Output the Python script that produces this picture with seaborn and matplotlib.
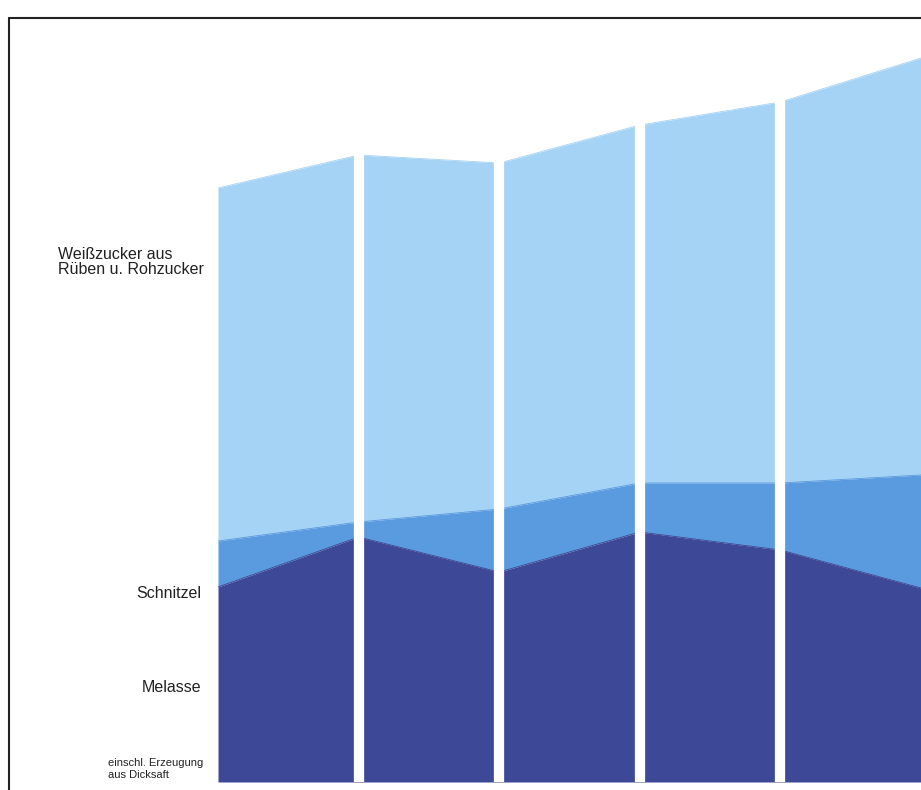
import numpy as np
import pandas as pd
import matplotlib
matplotlib.use("Agg")
import matplotlib.pyplot as plt
from matplotlib.lines import Line2D
import seaborn as sns

# ---- data (arbitrary units, stacked heights) ----
points = [0, 1, 2, 3, 4, 5]                       # panel boundaries
total = [594, 627, 619, 657, 680, 724]            # top of Weißzucker
schnitzel_top = [241, 260, 273, 299, 299, 307]    # top of Schnitzel
melasse = [195, 245, 210, 250, 232, 194]          # top of Melasse

labels = ["Weißzucker aus\nRüben u. Rohzucker", "Schnitzel", "Melasse"]
note = "einschl. Erzeugung\naus Dicksaft"

c_light = "#a5d3f5"
c_mid = "#5a9ade"
c_dark = "#3d4896"

sns.set_theme(style="white")
plt.rcParams["font.family"] = ["Liberation Sans", "DejaVu Sans"]

W, H = 921, 790
fig = plt.figure(figsize=(W / 100, H / 100), dpi=100)
ax = fig.add_axes([218 / W, (H - 782) / H, 1 - 218 / W, (782 - 18) / H])

df = pd.DataFrame({"x": points, "total": total, "mid": schnitzel_top, "dark": melasse})

ax.fill_between(df["x"], df["mid"], df["total"], color=c_light, lw=0)
ax.fill_between(df["x"], df["dark"], df["mid"], color=c_mid, lw=0)
ax.fill_between(df["x"], 0, df["dark"], color=c_dark, lw=0)
sns.lineplot(data=df, x="x", y="total", ax=ax, color=c_light, lw=0.6)
sns.lineplot(data=df, x="x", y="mid", ax=ax, color=c_mid, lw=0.6)
sns.lineplot(data=df, x="x", y="dark", ax=ax, color=c_dark, lw=0.6)

for xv in points[1:-1]:
    ax.axvline(xv, color="white", lw=7.4, zorder=5)

ax.set_xlim(0, 5)
ax.set_ylim(0, 764)
ax.set_xlabel("")
ax.set_ylabel("")
ax.set_xticks([])
ax.set_yticks([])
for s in ax.spines.values():
    s.set_visible(False)

# frame lines (top and left)
fig.add_artist(Line2D([8.5 / W, 8.5 / W], [0, 1 - 18 / H], transform=fig.transFigure,
                      color="#222222", lw=1.5))
fig.add_artist(Line2D([8.5 / W, 1], [1 - 18 / H, 1 - 18 / H], transform=fig.transFigure,
                      color="#222222", lw=1.5))

txt = "#222222"
fig.text(58 / W, 1 - 262 / H, labels[0], ha="left", va="center", fontsize=11.5,
         color=txt, linespacing=1.05)
fig.text(201 / W, 1 - 594 / H, labels[1], ha="right", va="center", fontsize=11.5, color=txt)
fig.text(201 / W, 1 - 687 / H, labels[2], ha="right", va="center", fontsize=11.5, color=txt)
fig.text(108 / W, 1 - 769 / H, note, ha="left", va="center", fontsize=8,
         color=txt, linespacing=1.2)

fig.savefig("out.png", dpi=100)
